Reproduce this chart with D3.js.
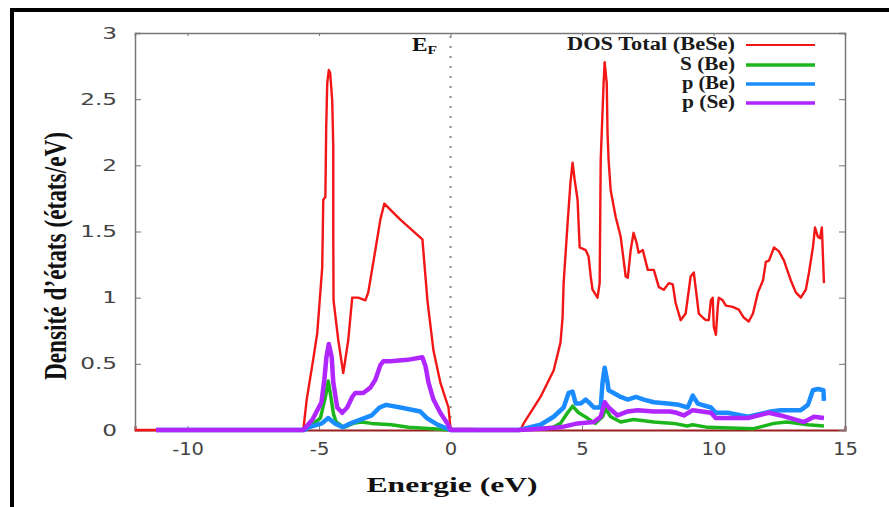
<!DOCTYPE html>
<html><head><meta charset="utf-8">
<script src="https://cdn.jsdelivr.net/npm/d3@7"></script>
<style>html,body{margin:0;padding:0;background:#fff;}svg{display:block;}</style>
</head><body>
<svg id="chart" width="889" height="507"></svg>
<script>
// ---- data (energy eV, DOS états/eV) ----
const totalDOS = [[-12,0],[-5.6,0],[-5.47,0.23],[-5.25,0.5],[-5.07,0.73],[-4.88,1.23],[-4.84,1.74],[-4.76,1.76],[-4.73,2.27],[-4.69,2.62],[-4.63,2.72],[-4.58,2.70],[-4.50,2.49],[-4.46,2.14],[-4.46,1.49],[-4.45,0.98],[-4.27,0.68],[-4.08,0.43],[-3.89,0.68],[-3.74,1.0],[-3.51,1.0],[-3.24,0.98],[-3.13,1.04],[-2.86,1.36],[-2.67,1.59],[-2.52,1.71],[-1.91,1.59],[-1.07,1.44],[-0.88,0.98],[-0.65,0.6],[-0.39,0.36],[-0.08,0.17],[0,0.01],[2.66,0],[2.78,0.05],[3.42,0.25],[3.92,0.45],[4.18,0.66],[4.26,0.85],[4.30,1.11],[4.45,1.56],[4.56,1.87],[4.64,2.02],[4.72,1.89],[4.83,1.74],[4.91,1.38],[5.14,1.36],[5.25,1.31],[5.33,1.16],[5.40,1.06],[5.59,1.0],[5.67,1.11],[5.71,2.04],[5.82,2.62],[5.86,2.78],[5.94,2.62],[5.97,2.24],[6.01,2.04],[6.09,1.81],[6.28,1.61],[6.47,1.46],[6.66,1.16],[6.74,1.15],[6.85,1.36],[6.96,1.49],[7.08,1.41],[7.15,1.34],[7.31,1.36],[7.50,1.21],[7.73,1.21],[7.92,1.08],[8.11,1.06],[8.30,1.11],[8.45,1.10],[8.56,0.96],[8.75,0.83],[8.94,0.88],[9.13,1.16],[9.25,1.19],[9.33,1.06],[9.44,0.88],[9.59,0.85],[9.71,0.83],[9.82,0.83],[9.90,0.98],[9.97,1.0],[10.01,0.78],[10.09,0.72],[10.16,0.93],[10.20,1.0],[10.35,0.98],[10.47,0.94],[10.73,0.93],[10.96,0.91],[11.15,0.85],[11.34,0.82],[11.50,0.88],[11.69,1.04],[11.88,1.13],[11.99,1.27],[12.11,1.28],[12.30,1.38],[12.49,1.35],[12.68,1.28],[12.94,1.13],[13.13,1.04],[13.32,1.0],[13.51,1.06],[13.63,1.19],[13.78,1.38],[13.86,1.53],[13.97,1.46],[14.05,1.45],[14.12,1.53],[14.2,1.11]];
const sBe = [[-11.2,0],[-5.55,0],[-5.4,0.02],[-4.95,0.09],[-4.76,0.25],[-4.65,0.37],[-4.55,0.25],[-4.45,0.12],[-4.35,0.06],[-4.05,0.02],[-3.7,0.05],[-3.4,0.06],[-3.0,0.05],[-2.25,0.04],[-1.6,0.02],[-0.7,0.01],[0,0],[2.6,0],[3.9,0.02],[4.18,0.05],[4.45,0.13],[4.64,0.18],[4.87,0.13],[5.2,0.09],[5.5,0.05],[5.78,0.1],[5.9,0.16],[6.09,0.1],[6.47,0.06],[6.96,0.08],[7.73,0.06],[8.49,0.05],[9.0,0.03],[9.21,0.04],[9.78,0.02],[11.53,0.01],[12.30,0.05],[12.8,0.06],[13.59,0.04],[14.2,0.03]];
const pBe = [[-11.2,0],[-5.55,0],[-5.4,0.02],[-4.9,0.05],[-4.65,0.09],[-4.4,0.05],[-4.1,0.02],[-3.8,0.05],[-3.4,0.08],[-3.0,0.11],[-2.7,0.17],[-2.45,0.19],[-1.9,0.17],[-1.15,0.14],[-0.9,0.09],[-0.5,0.04],[0,0],[2.6,0],[3.42,0.04],[3.92,0.1],[4.3,0.17],[4.49,0.28],[4.64,0.29],[4.76,0.2],[4.95,0.2],[5.14,0.23],[5.25,0.21],[5.45,0.17],[5.71,0.17],[5.78,0.36],[5.86,0.47],[5.97,0.36],[6.01,0.3],[6.2,0.28],[6.47,0.25],[6.74,0.23],[7.05,0.25],[7.35,0.23],[7.73,0.21],[8.26,0.2],[8.68,0.19],[9.02,0.17],[9.21,0.26],[9.40,0.2],[9.90,0.17],[10.09,0.13],[10.54,0.13],[11.31,0.1],[12.18,0.14],[12.56,0.15],[13.32,0.15],[13.59,0.19],[13.78,0.3],[13.97,0.31],[14.18,0.3],[14.2,0.22]];
const pSe = [[-11.2,0],[-5.6,0],[-5.25,0.08],[-4.91,0.21],[-4.80,0.38],[-4.72,0.55],[-4.63,0.65],[-4.52,0.55],[-4.46,0.36],[-4.31,0.17],[-4.12,0.13],[-3.93,0.17],[-3.74,0.25],[-3.62,0.28],[-3.32,0.28],[-3.05,0.32],[-2.86,0.38],[-2.67,0.49],[-2.55,0.52],[-2.29,0.52],[-1.64,0.53],[-1.07,0.55],[-0.95,0.48],[-0.84,0.36],[-0.65,0.23],[-0.39,0.13],[-0.12,0.05],[0,0],[2.6,0],[3.42,0.01],[4.18,0.02],[4.83,0.05],[5.45,0.06],[5.71,0.1],[5.86,0.21],[6.01,0.17],[6.35,0.11],[6.74,0.14],[7.12,0.15],[7.73,0.14],[8.35,0.14],[8.6,0.13],[8.87,0.11],[9.21,0.15],[9.9,0.13],[10.09,0.09],[11.31,0.09],[12.1,0.13],[12.56,0.11],[13.44,0.06],[13.82,0.1],[14.2,0.09]];

const seriesNames = ["DOS Total (BeSe)", "S (Be)", "p (Be)", "p (Se)"];
const seriesData = [totalDOS, sBe, pBe, pSe];
const seriesColors = ["#f21616", "#1cb61c", "#1a8cff", "#b026ff"];
const seriesWidths = [2.4, 3.5, 4.5, 4.5];
const legendWidths = [2, 3.5, 3.5, 3.5];
const xTicks = [-10, -5, 0, 5, 10, 15];
const yTicks = [0, 0.5, 1, 1.5, 2, 2.5, 3];
const xDomain = [-12, 15];
const yDomain = [0, 3];
const xLabel = "Energie (eV)";
const yLabel = "Densité d’états (états/eV)";

// ---- layout ----
const svg = d3.select("#chart");
const L = 135, R = 845, T = 33, B = 430;
const x = d3.scaleLinear().domain(xDomain).range([L, R]);
const y = d3.scaleLinear().domain(yDomain).range([B, T]);

// outer black border (top + left)
svg.append("line").attr("x1", 10).attr("x2", 889).attr("y1", 10).attr("y2", 10)
  .attr("stroke", "#000").attr("stroke-width", 4);
svg.append("line").attr("x1", 12).attr("x2", 12).attr("y1", 8).attr("y2", 507)
  .attr("stroke", "#000").attr("stroke-width", 4);

const frameColor = "#777";
const tickFont = "'DejaVu Sans', Verdana, sans-serif";

// bottom axis
const gx = svg.append("g").attr("transform", `translate(0,${B})`)
  .call(d3.axisBottom(x).tickValues(xTicks).tickSize(-4).tickPadding(13).tickFormat(d => d));
gx.select(".domain").attr("stroke", "#9a2020").attr("stroke-width", 2);
gx.selectAll(".tick line").attr("stroke", frameColor);
gx.selectAll(".tick text").attr("font-family", tickFont).attr("font-size", 17)
  .attr("fill", "#444").attr("transform", "scale(1.15,1)");

// top axis (mirror ticks)
const gxt = svg.append("g").attr("transform", `translate(0,${T})`)
  .call(d3.axisTop(x).tickValues(xTicks).tickSize(-3).tickFormat(""));
gxt.select(".domain").attr("stroke", frameColor).attr("stroke-width", 1.5);
gxt.selectAll(".tick line").attr("stroke", frameColor);

// left axis
const gy = svg.append("g").attr("transform", `translate(${L},0)`)
  .call(d3.axisLeft(y).tickValues(yTicks).tickSize(-6).tickPadding(18).tickFormat(d => d));
gy.select(".domain").attr("stroke", frameColor).attr("stroke-width", 1.5);
gy.selectAll(".tick line").attr("stroke", frameColor);
gy.selectAll(".tick text").attr("font-family", tickFont).attr("font-size", 16)
  .attr("fill", "#444").attr("x", -18 / 1.45).attr("transform", "scale(1.45,1)");

// right axis
const gyr = svg.append("g").attr("transform", `translate(${R},0)`)
  .call(d3.axisRight(y).tickValues(yTicks).tickSize(-6).tickFormat(""));
gyr.select(".domain").attr("stroke", frameColor).attr("stroke-width", 1.5);
gyr.selectAll(".tick line").attr("stroke", frameColor);

// Fermi level dotted line
svg.append("line").attr("x1", x(0)).attr("x2", x(0)).attr("y1", T + 3).attr("y2", B)
  .attr("stroke", "#888").attr("stroke-width", 2).attr("stroke-dasharray", "2,8");

// series
const line = d3.line().x(d => x(d[0])).y(d => y(d[1]));
seriesData.forEach((data, i) => {
  svg.append("path").datum(data).attr("d", line).attr("fill", "none")
    .attr("stroke", seriesColors[i]).attr("stroke-width", seriesWidths[i])
    .attr("stroke-linejoin", "round");
});

// E_F label
const ef = svg.append("text").attr("transform", "translate(412,51) scale(1.3,1)")
  .attr("font-family", "'Liberation Serif', 'Times New Roman', serif")
  .attr("font-weight", "bold").attr("fill", "#111");
ef.append("tspan").attr("font-size", 18).text("E");
ef.append("tspan").attr("font-size", 12).attr("dy", 3).text("F");

// legend
const legendTextW = [168, 55, 53, 53];
const legendY = [45, 65, 84, 103];
seriesNames.forEach((name, i) => {
  svg.append("text").attr("x", 735).attr("y", legendY[i] + 5)
    .attr("text-anchor", "end")
    .attr("font-family", "'Liberation Serif', 'Times New Roman', serif")
    .attr("font-weight", "bold").attr("font-size", 18).attr("fill", "#1a1a1a")
    .attr("textLength", legendTextW[i]).attr("lengthAdjust", "spacingAndGlyphs")
    .text(name);
  svg.append("line").attr("x1", 746).attr("x2", 815)
    .attr("y1", legendY[i]).attr("y2", legendY[i])
    .attr("stroke", seriesColors[i]).attr("stroke-width", legendWidths[i]);
});

// axis titles
svg.append("text").attr("x", 452).attr("y", 492).attr("text-anchor", "middle")
  .attr("font-family", "'Liberation Serif', 'Times New Roman', serif")
  .attr("font-weight", "bold").attr("font-size", 22).attr("fill", "#111")
  .attr("textLength", 171).attr("lengthAdjust", "spacingAndGlyphs")
  .text(xLabel);
svg.append("text").attr("transform", "translate(66,380) rotate(-90)")
  .attr("text-anchor", "start")
  .attr("font-family", "'Liberation Serif', 'Times New Roman', serif")
  .attr("font-weight", "bold").attr("font-size", 31).attr("fill", "#111")
  .attr("textLength", 248).attr("lengthAdjust", "spacingAndGlyphs")
  .text(yLabel);
</script>
</body></html>
